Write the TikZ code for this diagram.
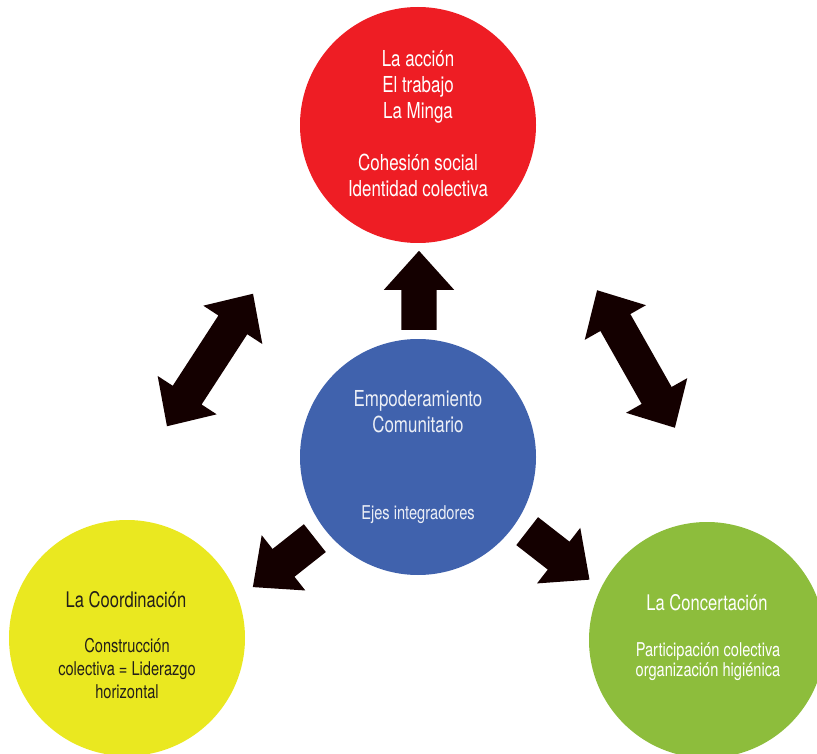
\documentclass[tikz,border=0pt]{standalone}
\usepackage{fontspec}
\setmainfont{TeX Gyre Heros}[FakeStretch=0.77]
\usetikzlibrary{shapes.arrows}

\definecolor{rojo}{RGB}{238,29,36}
\definecolor{azul}{RGB}{64,98,173}
\definecolor{amarillo}{RGB}{234,232,32}
\definecolor{verde}{RGB}{141,189,60}
\definecolor{flechac}{RGB}{20,0,0}
\definecolor{claro}{RGB}{236,239,246}
\definecolor{oscuro}{RGB}{35,31,25}

\begin{document}
\begin{tikzpicture}[
        x=1pt, y=-1pt,
        circulo/.style={circle, minimum size=236pt, inner sep=0pt},
        flecha/.style={single arrow, fill=flechac, inner xsep=0pt, inner ysep=17.5pt,
            minimum width=70pt, minimum height=79pt,
            single arrow head extend=17.5pt, single arrow tip angle=84},
        doble flecha/.style={double arrow, fill=flechac, inner xsep=0pt, inner ysep=17pt,
            minimum width=70pt, minimum height=158pt,
            double arrow head extend=18pt, double arrow tip angle=87},
        texto grande/.style={font=\fontsize{22}{26}\selectfont, align=center, anchor=base},
        titulo/.style={font=\fontsize{21.5}{26}\selectfont, align=center, anchor=base},
        texto chico/.style={font=\fontsize{19}{23}\selectfont, align=center, anchor=base}
    ]
	\useasboundingbox (0,0) rectangle (817,754);
	\clip (0,0) rectangle (817,754);
	% circulos
	\node[circulo, fill=rojo] (accion) at (418,125) {};
	\node[circulo, fill=azul] (centro) at (418,457) {};
	\node[circulo, fill=amarillo] (coordinacion) at (127,638) {};
	\node[circulo, fill=verde] (concertacion) at (707,640) {};
	% flechas
	\node[flecha, rotate=90, anchor=tail] (f_arriba) at (419,330) {};
	\node[flecha, rotate=218.3, anchor=tail] (f_izq) at (315,538) {};
	\node[flecha, rotate=-37.9, anchor=tail] (f_der) at (527,531) {};
	\node[doble flecha, rotate=57] (d_izq) at (210,360) {};
	\node[doble flecha, rotate=-60.5] (d_der) at (636,359) {};
	% textos (anchor base = ultima linea)
	\node[texto grande, text=white] (t_accion) at (418,196.7)
		{La acción\\El trabajo\\La Minga\\[26pt]Cohesión social\\Identidad colectiva};
	\node[texto grande, text=claro] (t_centro) at (418,432.7) {Empoderamiento\\Comunitario};
	\node[texto chico, text=claro] (t_ejes) at (418,519) {Ejes integradores};
	\node[titulo, text=oscuro] (t_coord) at (126,607.7) {La Coordinación};
	\node[texto chico, text=oscuro] (t_constr) at (127,698)
		{Construcción\\colectiva = Liderazgo\\horizontal};
	\node[titulo, text=white] (t_conc) at (707,610) {La Concertación};
	\node[texto chico, text=white, font=\fontsize{19}{20}\selectfont] (t_partic) at (708,676.7)
		{Participación colectiva\\organización higiénica};
\end{tikzpicture}
\end{document}
